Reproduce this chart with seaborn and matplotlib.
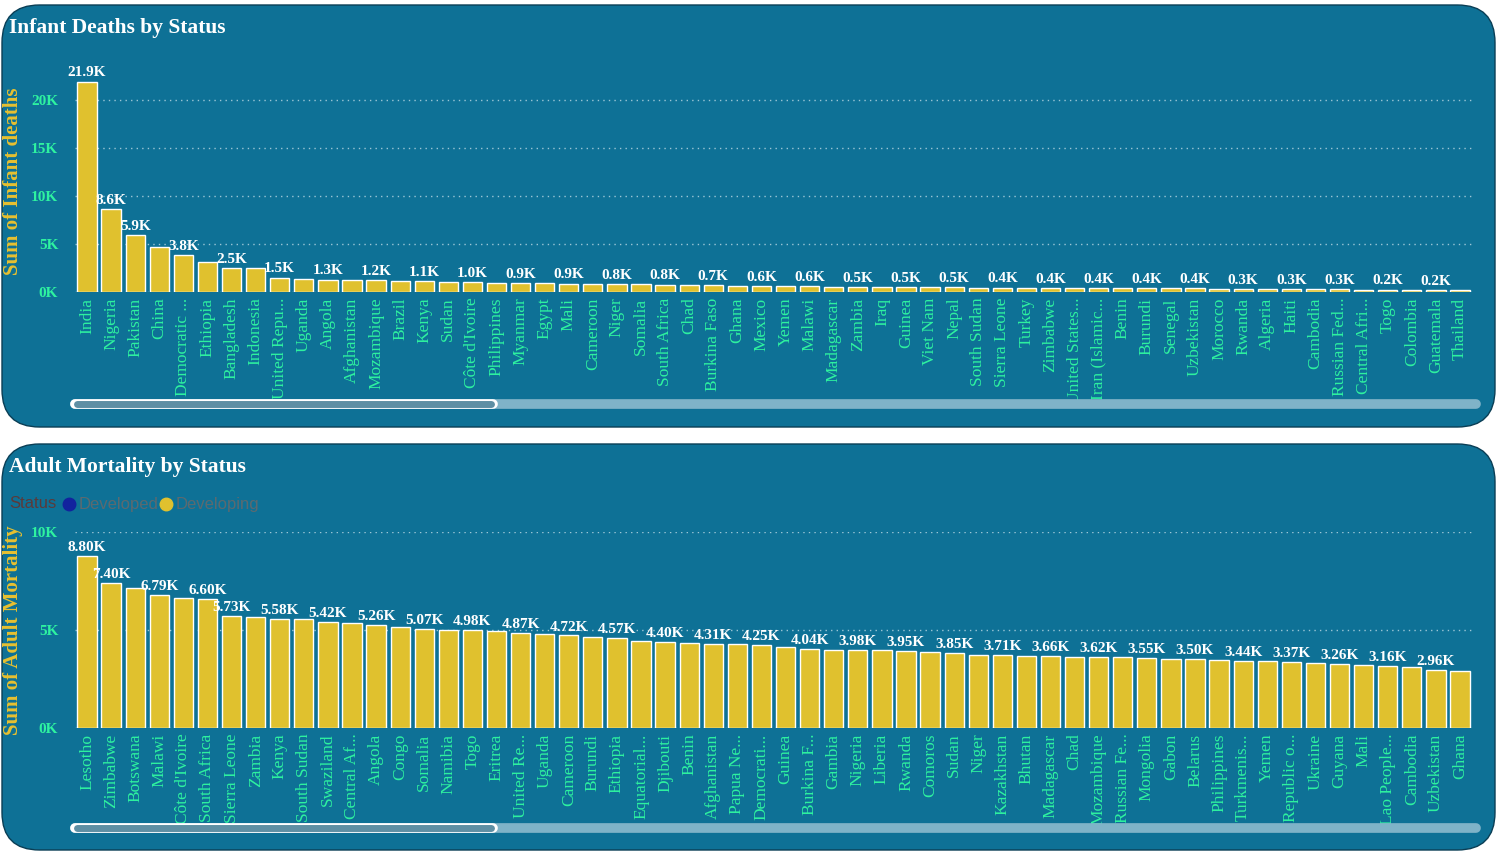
import matplotlib
matplotlib.use("Agg")
import matplotlib.pyplot as plt
import seaborn as sns
import pandas as pd
from matplotlib.patches import FancyBboxPatch
from matplotlib.lines import Line2D

infant_countries = ["India","Nigeria","Pakistan","China","Democratic ...","Ethiopia","Bangladesh","Indonesia","United Repu...","Uganda","Angola","Afghanistan","Mozambique","Brazil","Kenya","Sudan","Côte d'Ivoire","Philippines","Myanmar","Egypt","Mali","Cameroon","Niger","Somalia","South Africa","Chad","Burkina Faso","Ghana","Mexico","Yemen","Malawi","Madagascar","Zambia","Iraq","Guinea","Viet Nam","Nepal","South Sudan","Sierra Leone","Turkey","Zimbabwe","United States...","Iran (Islamic...","Benin","Burundi","Senegal","Uzbekistan","Morocco","Rwanda","Algeria","Haiti","Cambodia","Russian Fed...","Central Afri...","Togo","Colombia","Guatemala","Thailand"]
infant_values = [21900,8600,5900,4700,3800,3100,2500,2450,1500,1400,1300,1250,1200,1150,1100,1050,1000,950,920,900,880,850,820,800,780,740,700,660,620,600,580,550,520,500,490,480,470,450,440,420,410,400,395,390,385,380,370,350,320,310,300,290,280,260,230,220,210,200]
infant_labels = ["21.9K","8.6K","5.9K",None,"3.8K",None,"2.5K",None,"1.5K",None,"1.3K",None,"1.2K",None,"1.1K",None,"1.0K",None,"0.9K",None,"0.9K",None,"0.8K",None,"0.8K",None,"0.7K",None,"0.6K",None,"0.6K",None,"0.5K",None,"0.5K",None,"0.5K",None,"0.4K",None,"0.4K",None,"0.4K",None,"0.4K",None,"0.4K",None,"0.3K",None,"0.3K",None,"0.3K",None,"0.2K",None,"0.2K",None]

adult_countries = ["Lesotho","Zimbabwe","Botswana","Malawi","Côte d'Ivoire","South Africa","Sierra Leone","Zambia","Kenya","South Sudan","Swaziland","Central Af...","Angola","Congo","Somalia","Namibia","Togo","Eritrea","United Re...","Uganda","Cameroon","Burundi","Ethiopia","Equatorial...","Djibouti","Benin","Afghanistan","Papua Ne...","Democrati...","Guinea","Burkina F...","Gambia","Nigeria","Liberia","Rwanda","Comoros","Sudan","Niger","Kazakhstan","Bhutan","Madagascar","Chad","Mozambique","Russian Fe...","Mongolia","Gabon","Belarus","Philippines","Turkmenis...","Yemen","Republic o...","Ukraine","Guyana","Mali","Lao People...","Cambodia","Uzbekistan","Ghana"]
adult_values = [8800,7400,7150,6790,6650,6600,5730,5650,5580,5550,5420,5350,5260,5150,5070,5020,4980,4930,4870,4800,4720,4650,4570,4450,4400,4350,4310,4280,4250,4150,4040,4000,3980,3960,3950,3880,3850,3750,3710,3690,3660,3640,3620,3600,3550,3520,3500,3470,3440,3400,3370,3300,3260,3200,3160,3100,2960,2900]
adult_labels = ["8.80K","7.40K",None,"6.79K",None,"6.60K","5.73K",None,"5.58K",None,"5.42K",None,"5.26K",None,"5.07K",None,"4.98K",None,"4.87K",None,"4.72K",None,"4.57K",None,"4.40K",None,"4.31K",None,"4.25K",None,"4.04K",None,"3.98K",None,"3.95K",None,"3.85K",None,"3.71K",None,"3.66K",None,"3.62K",None,"3.55K",None,"3.50K",None,"3.44K",None,"3.37K",None,"3.26K",None,"3.16K",None,"2.96K",None]

PANEL = "#0E7196"
BAR = "#E0C12E"
TICK = "#2EF2A0"
YEL = "#E8C030"
W, H = 1503, 852

sns.set_theme(style="white")
plt.rcParams['font.family'] = ['Liberation Serif', 'DejaVu Serif']

fig = plt.figure(figsize=(W/100, H/100), dpi=100)
fig.patch.set_facecolor("white")

def panel(y0, y1):
    p = FancyBboxPatch((2/W, 1-y1/H), 1493/W, (y1-y0)/H,
                       boxstyle="round,pad=0,rounding_size=0.025",
                       transform=fig.transFigure, facecolor=PANEL,
                       edgecolor="#0A3E55", linewidth=1, mutation_aspect=W/H,
                       zorder=-10)
    fig.patches.append(p)

panel(5, 427)
panel(444, 850)

def scrollbar(y):
    fig.add_artist(Line2D([75/W, 1476/W], [1-y/H]*2, transform=fig.transFigure,
                          color="#7FB3C8", lw=7, solid_capstyle="round"))
    fig.add_artist(Line2D([75/W, 493/W], [1-y/H]*2, transform=fig.transFigure,
                          color="white", lw=7, solid_capstyle="round"))
    fig.add_artist(Line2D([77/W, 491/W], [1-y/H]*2, transform=fig.transFigure,
                          color="#5E8FA4", lw=5, solid_capstyle="round"))

def draw(ax_rect, countries, values, labels, ymax, ticks, ticklabels, ylabel, fmt_pad):
    ax = fig.add_axes(ax_rect)
    ax.set_facecolor("none")
    ax.set_zorder(1)
    df = pd.DataFrame({"c": countries, "v": values})
    sns.barplot(data=df, x="c", y="v", color=BAR, saturation=1, width=0.8, ax=ax)
    ax.set_xlim(-0.5, len(countries)-0.5)
    ax.set_ylim(0, ymax)
    ax.set_yticks(ticks)
    ax.set_yticklabels(ticklabels, color=TICK, fontsize=11, fontweight="bold")
    ax.tick_params(axis="x", rotation=90, labelsize=12.5, colors=TICK, length=0, pad=4)
    ax.tick_params(axis="y", length=0, pad=12)
    for lab in ax.get_xticklabels():
        lab.set_color(TICK)
    ax.grid(axis="y", color="#9CC6D6", linestyle=(0, (1, 3)), lw=1)
    ax.set_axisbelow(True)
    for s in ax.spines.values():
        s.set_visible(False)
    ax.set_xlabel("")
    ax.set_ylabel(ylabel, color=YEL, fontsize=15, fontweight="bold", labelpad=6)
    for i, (v, l) in enumerate(zip(values, labels)):
        if l:
            ax.text(i, v + fmt_pad, l, ha="center", va="bottom", color="white",
                    fontsize=11, fontweight="bold")
    return ax

draw([75/W, 1-292/H, 1397/W, 221/H], infant_countries, infant_values, infant_labels,
     23000, [0, 5000, 10000, 15000, 20000], ["0K", "5K", "10K", "15K", "20K"],
     "Sum of Infant deaths", 250)
draw([75/W, 1-728/H, 1397/W, 196/H], adult_countries, adult_values, adult_labels,
     10000, [0, 5000, 10000], ["0K", "5K", "10K"],
     "Sum of Adult Mortality", 100)

fig.text(9/W, 1-28/H, "Infant Deaths by Status", color="white", fontsize=15.5,
         fontweight="bold", va="center")
fig.text(9/W, 1-467/H, "Adult Mortality by Status", color="white", fontsize=15.5,
         fontweight="bold", va="center")

# legend
fig.text(9/W, 1-504/H, "Status", color="#5B3A3A", fontsize=12, va="center", family="Liberation Sans")
fig.add_artist(Line2D([69/W], [1-504/H], marker="o", color="#12239E", markersize=9,
                      transform=fig.transFigure, linestyle="none"))
fig.text(79/W, 1-504/H, "Developed", color="#5B6A70", fontsize=12, va="center", family="Liberation Sans")
fig.add_artist(Line2D([166/W], [1-504/H], marker="o", color=BAR, markersize=9,
                      transform=fig.transFigure, linestyle="none"))
fig.text(176/W, 1-504/H, "Developing", color="#5B6A70", fontsize=12, va="center", family="Liberation Sans")

scrollbar(404)
scrollbar(828)

fig.savefig("out.png", dpi=100, facecolor="white")
